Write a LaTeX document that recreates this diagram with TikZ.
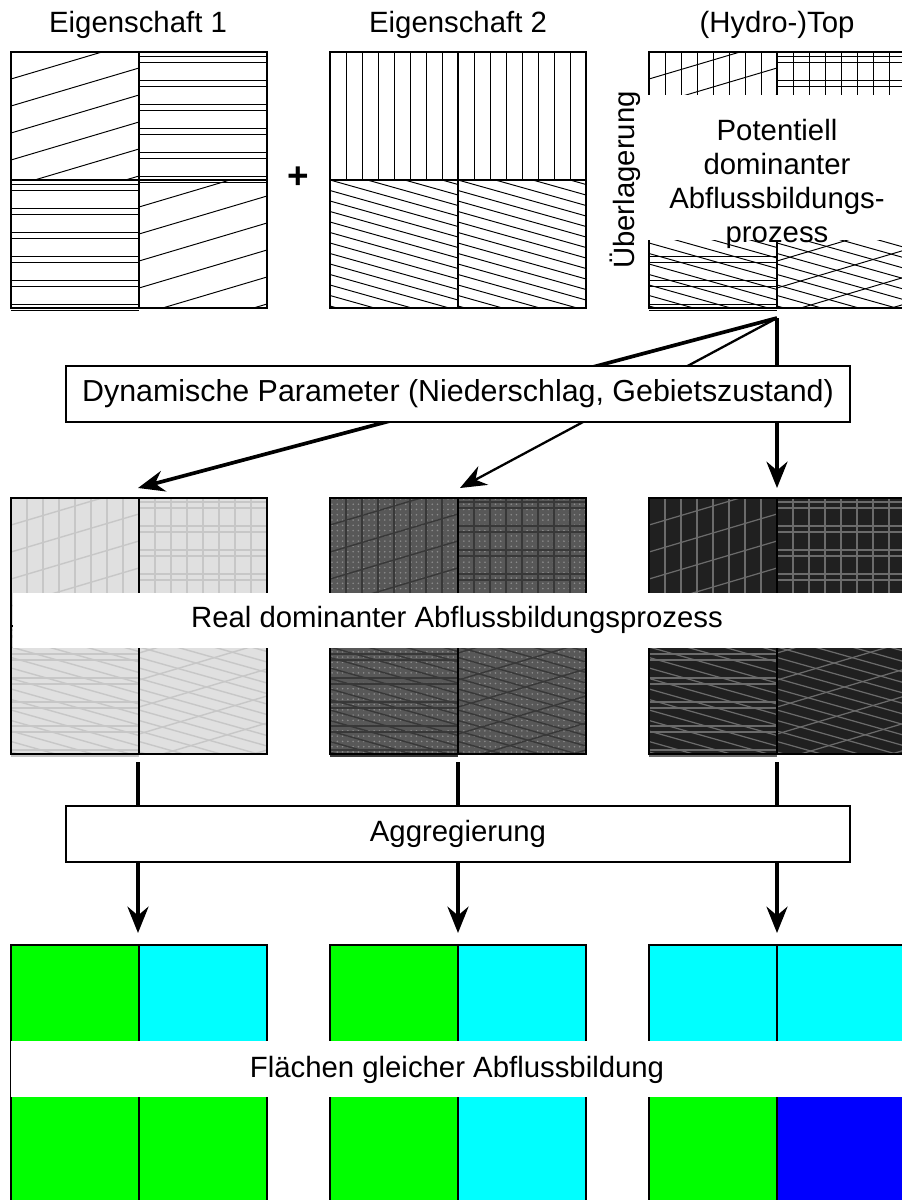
\documentclass[tikz,border=0pt]{standalone}
\usepackage{fontspec}
\setmainfont{Liberation Sans}
\usetikzlibrary{arrows.meta, patterns}

\definecolor{gruen}{RGB}{0,255,0}
\definecolor{tuerkis}{RGB}{0,255,255}
\definecolor{blau}{RGB}{0,0,255}
\definecolor{hellgrau}{RGB}{224,224,224}
\definecolor{mittelgrau}{RGB}{88,88,88}
\definecolor{dunkelgrau}{RGB}{32,32,32}

\tikzset{
	hatch/.style={line width=0.55pt},
	frame/.style={draw=black, line width=0.6pt},
	box/.style={draw, fill=white, line width=1pt, minimum width=15.68cm, minimum height=1.12cm},
	flow/.style={line width=2.1pt, -{Stealth[length=15pt, width=12pt, inset=5pt]}},
}

% hatchings of one quadrant, #1,#2 = upper left corner
\newcommand{\hrise}[2]{%
	\begin{scope}
		\clip (#1,#2) rectangle ++(128,128);
		\foreach \k in {0,...,6}
			\draw[hatch] (#1,#2+27*\k) -- ++(128,-38);
	\end{scope}}
\newcommand{\hfall}[2]{%
	\begin{scope}
		\clip (#1,#2) rectangle ++(128,128);
		\foreach \k in {-4,...,12}
			\draw[hatch] (#1,#2+10.5*\k) -- ++(128,36);
	\end{scope}}
\newcommand{\hvert}[2]{%
	\foreach \k in {1,...,7}
		\draw[hatch] (#1+16*\k,#2) -- ++(0,128);}
\newcommand{\hhorz}[2]{%
	\foreach \k in {0,...,5}{
		\draw[hatch] (#1,#2+24*\k+4) -- ++(128,0);
		\draw[hatch] (#1,#2+24*\k+10) -- ++(128,0);
	}}

% panels, #1,#2 = upper left corner
\newcommand{\rahmen}[2]{%
	\draw[frame] (#1,#2) rectangle ++(256,256);
	\draw[frame] (#1+128,#2) -- ++(0,256);
	\draw[frame] (#1,#2+128) -- ++(256,0);}
\newcommand{\ueberlagert}[2]{%
	\hrise{#1}{#2}\hvert{#1}{#2}
	\hhorz{#1+128}{#2}\hvert{#1+128}{#2}
	\hhorz{#1}{#2+128}\hfall{#1}{#2+128}
	\hrise{#1+128}{#2+128}\hfall{#1+128}{#2+128}}

\begin{document}
\begin{tikzpicture}[x=0.02cm, y=-0.02cm, font=\fontsize{16.7}{19.5}\selectfont]
	\useasboundingbox (0,0) rectangle (902,1200);

	% static properties
	\node[anchor=base] (eig1) at (138,32) {Eigenschaft 1};
	\node[anchor=base] (eig2) at (458,32) {Eigenschaft 2};
	\node[anchor=base] (topo) at (777,32) {(Hydro-)Top};

	\hrise{11}{52}\hhorz{139}{52}\hhorz{11}{180}\hrise{139}{180}
	\rahmen{11}{52}
	\node[font=\fontsize{21}{24}\selectfont\bfseries] (plus) at (298,178) {+};
	\hvert{330}{52}\hvert{458}{52}\hfall{330}{180}\hfall{458}{180}
	\rahmen{330}{52}
	\ueberlagert{649}{52}
	\rahmen{649}{52}

	\fill[white] (647,95) rectangle (910,240);
	\node[inner sep=0pt, align=center] (potenz) at (777,184)
		{Potentiell\\dominanter\\Abflussbildungs-\\prozess};
	\node[rotate=90] (ueber) at (625,180) {Überlagerung};

	% dynamic parameters
	\coordinate (pot) at (777,318);
	\coordinate (real1) at (138,488);
	\coordinate (real2) at (460,488);
	\coordinate (real3) at (777,488);
	\draw[flow] (pot) -- (real1);
	\draw[flow, line width=1.3pt] (pot) -- (real2);
	\draw[flow] (pot) -- (real3);
	\node[box, font=\fontsize{17.3}{20}\selectfont] (dyn) at (458,394)
		{Dynamische Parameter (Niederschlag, Gebietszustand)};

	% real dominant process
	\fill[hellgrau] (11,498) rectangle ++(256,256);
	\begin{scope}[hatch/.style={line width=0.8pt, draw=black!22}]
		\ueberlagert{11}{498}
	\end{scope}
	\fill[mittelgrau] (330,498) rectangle ++(256,256);
	\fill[pattern=dots, pattern color=black!45] (330,498) rectangle ++(256,256);
	\begin{scope}[hatch/.style={line width=0.8pt, draw=black!78}]
		\ueberlagert{330}{498}
	\end{scope}
	\fill[dunkelgrau] (649,498) rectangle ++(256,256);
	\begin{scope}[hatch/.style={line width=0.7pt, draw=black!58}]
		\ueberlagert{649}{498}
	\end{scope}
	\foreach \px in {11,330,649}
		\rahmen{\px}{498}
	\fill[white] (13,593) rectangle (910,648);
	\node[anchor=base] (real) at (457,627) {Real dominanter Abflussbildungsprozess};

	% aggregation
	\coordinate (out1) at (138,762);
	\coordinate (out2) at (458,762);
	\coordinate (out3) at (777,762);
	\coordinate (agg1) at (138,933);
	\coordinate (agg2) at (458,933);
	\coordinate (agg3) at (777,933);
	\draw[flow] (out1) -- (agg1);
	\draw[flow] (out2) -- (agg2);
	\draw[flow] (out3) -- (agg3);
	\node[box] (agg) at (458,834) {Aggregierung};

	% areas of equal runoff generation
	\fill[gruen] (11,945) rectangle ++(128,128);
	\fill[tuerkis] (139,945) rectangle ++(128,128);
	\fill[gruen] (11,1073) rectangle ++(256,128);
	\fill[gruen] (330,945) rectangle ++(128,256);
	\fill[tuerkis] (458,945) rectangle ++(128,256);
	\fill[tuerkis] (649,945) rectangle ++(256,128);
	\fill[gruen] (649,1073) rectangle ++(128,128);
	\fill[blau] (777,1073) rectangle ++(128,128);
	\foreach \px in {11,330,649}
		\rahmen{\px}{945}
	\fill[white] (11,1041) rectangle (910,1097);
	\node[anchor=base] (flaechen) at (457,1077) {Flächen gleicher Abflussbildung};

\end{tikzpicture}
\end{document}
